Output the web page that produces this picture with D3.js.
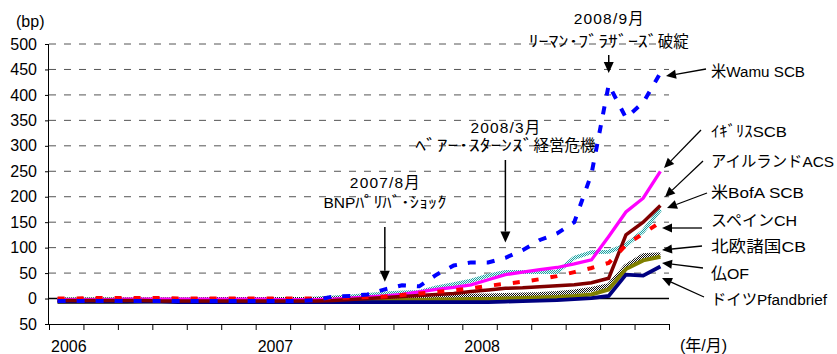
<!DOCTYPE html>
<html>
<head>
<meta charset="utf-8">
<script src="https://cdn.jsdelivr.net/npm/d3@7"></script>
<style>
  html, body { margin: 0; padding: 0; background: #fff; }
  svg { display: block; font-family: "Liberation Sans", Arial, "Noto Sans CJK JP", sans-serif; }
</style>
</head>
<body>
<svg id="chart" width="837" height="354"></svg>
<script>
// Covered-bond spreads, monthly Jan 2006 – Dec 2008 (bp)
const months = d3.range(36);
const yearLabels = ["2006", "2007", "2008"];
const yTickValues = [-50, 0, 50, 100, 150, 200, 250, 300, 350, 400, 450, 500];
const yTickLabels = ["50", "0", "50", "100", "150", "200", "250", "300", "350", "400", "450", "500"];

const wamuSCB   = [-5,-5,-5,-5,-5,-5,-5,-5,-5,-5,-5,-5,-5,-5,-5,-3,4,5,8,18,26,24,47,65,71,71,80,95,115,128,150,245,420,355,385,443];
const ukSCB     = [-2,-2,-2,-2,-1,-1,-1,-1,-1,-1,-1,-1,-1,-2,-2,-2,-1,1,3,5,8,13,18,22,27,37,47,52,57,61,68,76,122,170,197,250];
const irelandACS= [-4,-4,-4,-4,-4,-4,-5,-5,-5,-5,-5,-5,-5,-5,-5,-5,-4,-2,0,2,4,6,8,10,14,17,20,21,23,25,27,31,40,125,150,183];
const bofaSCB   = [0,0,1,1,1,1,1,0,0,0,0,0,0,0,0,0,1,2,3,4,7,10,13,16,20,25,29,33,38,44,52,60,70,105,128,150];
const spainCH   = [-5,-5,-5,-5,-5,-5,-5,-5,-5,-5,-4,-4,-4,-3,-2,0,2,4,7,10,12,13,22,28,35,45,52,52,52,52,80,91,92,105,132,175];
const nordicCB  = [-3,-3,-3,-3,-3,-3,-3,-3,-3,-2,-2,-2,-2,-2,-2,-2,-1,0,1,1,2,2,3,4,5,5,6,7,8,10,13,18,25,63,84,86];
const franceOF  = [-7,-7,-7,-7,-7,-6,-6,-6,-6,-6,-6,-6,-6,-6,-6,-5,-5,-5,-4,-4,-3,-3,-2,-2,-1,-1,0,1,2,3,5,8,18,58,75,82];
const germanyPf = [-6,-6,-6,-6,-6,-6,-6,-7,-7,-7,-7,-7,-7,-7,-7,-7,-7,-7,-7,-7,-7,-7,-7,-7,-7,-7,-6,-5,-4,-3,-1,1,5,47,45,63];

const seriesNames = ["米Wamu SCB", "ｲｷﾞﾘｽSCB", "アイルランドACS", "米BofA SCB", "スペインCH", "北欧諸国CB", "仏OF", "ドイツPfandbrief"];
const seriesValues = [wamuSCB, ukSCB, irelandACS, bofaSCB, spainCH, nordicCB, franceOF, germanyPf];

// stroke style per series (index into the lists above)
const styles = [
  { stroke: "#0000FF", width: 4,   dash: "8,11" },
  { stroke: "#FF00FF", width: 3.3, dash: null },
  { stroke: "#800000", width: 3.5, dash: null },
  { stroke: "#FF0000", width: 4,   dash: "7,12" },
  { stroke: "url(#chkTeal)", width: 4, dash: null },
  { stroke: "url(#chkGray)", width: 5, dash: null },
  { stroke: "#808000", width: 4,   dash: null },
  { stroke: "#000080", width: 3.8, dash: null }
];
// painting order (bottom to top)
const drawOrder = [4, 5, 6, 7, 1, 2, 3, 0];

const svg = d3.select("#chart");
const plotLeft = 49, plotRight = 669, plotTop = 44, plotBottom = 324;

const x = d3.scaleLinear().domain([0, 36]).range([plotLeft, plotRight]);
const y = d3.scaleLinear().domain([-50, 500]).range([plotBottom, plotTop]);

// fill patterns for the textured lines
const defs = svg.append("defs");
const pt = defs.append("pattern").attr("id", "chkTeal").attr("patternUnits", "userSpaceOnUse")
  .attr("width", 2).attr("height", 2);
pt.append("rect").attr("width", 2).attr("height", 2).attr("fill", "#d8ffff");
pt.append("rect").attr("width", 1).attr("height", 1).attr("fill", "#2a9a9a");
pt.append("rect").attr("x", 1).attr("y", 1).attr("width", 1).attr("height", 1).attr("fill", "#2a9a9a");
const pg = defs.append("pattern").attr("id", "chkGray").attr("patternUnits", "userSpaceOnUse")
  .attr("width", 2).attr("height", 2);
pg.append("rect").attr("width", 2).attr("height", 2).attr("fill", "#ffffff");
pg.append("rect").attr("width", 1).attr("height", 1).attr("fill", "#111");
pg.append("rect").attr("x", 1).attr("y", 1).attr("width", 1).attr("height", 1).attr("fill", "#111");

// dashed horizontal gridlines
svg.append("g").selectAll("line")
  .data(yTickValues.filter(v => v > 0))
  .join("line")
  .attr("x1", plotLeft).attr("x2", plotRight)
  .attr("y1", d => y(d)).attr("y2", d => y(d))
  .attr("stroke", "#555").attr("stroke-width", 1)
  .attr("stroke-dasharray", "7,8");

// solid zero line
svg.append("line")
  .attr("x1", plotLeft).attr("x2", plotRight)
  .attr("y1", y(0)).attr("y2", y(0))
  .attr("stroke", "#000").attr("stroke-width", 1.5);

// y axis
const yAxis = d3.axisLeft(y).tickValues(yTickValues).tickSize(4)
  .tickFormat((d, i) => yTickLabels[i]);
const gy = svg.append("g").attr("transform", `translate(${plotLeft},0)`).call(yAxis);
gy.select(".domain").attr("stroke", "#000").attr("d", `M-0.5,${plotTop}V${plotBottom}`);
gy.selectAll(".tick line").attr("stroke", "#000");
gy.selectAll(".tick text").attr("font-size", 16).attr("fill", "#000")
  .attr("font-family", "\"Liberation Sans\", Arial, sans-serif").attr("x", -12);

// x axis: ticks every two months
const xAxis = d3.axisBottom(x).tickValues(d3.range(0, 37, 2)).tickSize(6).tickFormat("");
const gx = svg.append("g").attr("transform", `translate(0,${plotBottom})`).call(xAxis);
gx.select(".domain").attr("stroke", "#000");
gx.selectAll(".tick line").attr("stroke", "#000");

svg.append("g").selectAll("text")
  .data(yearLabels)
  .join("text")
  .attr("x", (d, i) => x(i * 12) + 2)
  .attr("y", 352)
  .attr("font-size", 16)
  .text(d => d);

svg.append("text").attr("x", 16).attr("y", 27).attr("font-size", 16).text("(bp)");
svg.append("text").attr("x", 680).attr("y", 351).attr("font-size", 16).text("(年/月)");

// series lines
const line = d3.line().x((d, i) => x(i + 0.5)).y(d => y(d));
svg.append("g").selectAll("path")
  .data(drawOrder)
  .join("path")
  .attr("d", k => line(seriesValues[k]))
  .attr("fill", "none")
  .attr("stroke", k => styles[k].stroke)
  .attr("stroke-width", k => styles[k].width)
  .attr("stroke-dasharray", k => styles[k].dash)
  .attr("stroke-linejoin", "miter");

// arrow helper: line from (x1,y1) to tip (x2,y2) with a filled head
function arrow(g, x1, y1, x2, y2, len, half, w) {
  const a = Math.atan2(y2 - y1, x2 - x1);
  const bx = x2 - len * Math.cos(a), by = y2 - len * Math.sin(a);
  g.append("line").attr("x1", x1).attr("y1", y1).attr("x2", bx).attr("y2", by)
    .attr("stroke", "#000").attr("stroke-width", w);
  const px = -Math.sin(a) * half, py = Math.cos(a) * half;
  g.append("path")
    .attr("d", `M${x2},${y2}L${bx + px},${by + py}L${bx - px},${by - py}Z`)
    .attr("fill", "#000");
}

// a centred line of text built from runs; a run with a width is fitted to it
function textRuns(g, cx, baseline, runs, size) {
  const nodes = runs.map(r => {
    const t = g.append("text").attr("y", baseline).attr("font-size", size).text(r.t);
    if (r.w) t.attr("textLength", r.w).attr("lengthAdjust", r.adj || "spacingAndGlyphs");
    return { t, w: r.w || t.node().getComputedTextLength() };
  });
  let xx = cx - d3.sum(nodes, n => n.w) / 2;
  nodes.forEach(n => { n.t.attr("x", xx); xx += n.w; });
}

// event annotations
const events = [
  { month: 19, lines: [[{ t: "2007/8月", w: 70, adj: "spacing" }],
                       [{ t: "BNP" }, { t: "ﾊﾟﾘﾊﾞ･ｼｮｯｸ", w: 91 }]],
    baselines: [188, 208], from: 227, tipValue: 33 },
  { month: 26, lines: [[{ t: "2008/3月", w: 70, adj: "spacing" }],
                       [{ t: "ﾍﾞｱｰ･ｽﾀｰﾝｽﾞ", w: 118 }, { t: "経営危機" }]],
    baselines: [133, 151], from: 160, tipValue: 110 },
  { month: 32, lines: [[{ t: "2008/9月", w: 70, adj: "spacing" }],
                       [{ t: "ﾘｰﾏﾝ･ﾌﾞﾗｻﾞｰｽﾞ", w: 129 }, { t: "破綻" }]],
    baselines: [24, 47], from: 55, tipValue: 443 }
];
const ge = svg.append("g");
events.forEach(ev => {
  const cx = x(ev.month + 0.5);
  ev.lines.forEach((runs, j) => textRuns(ge, cx, ev.baselines[j], runs, 15.5));
  arrow(ge, cx, ev.from, cx, y(ev.tipValue), 11, 5, 1.5);
});

// series labels with pointers
const labelLayout = [
  { ty: 77,  w: 94,  ax: 706, ay: 69,  tx: 666, tyy: 76 },
  { ty: 137, w: 76,  ax: 701, ay: 130, tx: 664, tyy: 168 },
  { ty: 167, w: 123, ax: 703, ay: 161, tx: 665, tyy: 197 },
  { ty: 198, w: 93,  ax: 707, ay: 193, tx: 667, tyy: 208 },
  { ty: 226, w: 86,  ax: 702, ay: 228, tx: 662, tyy: 228 },
  { ty: 252, w: 95,  ax: 702, ay: 246, tx: 662, tyy: 250 },
  { ty: 279, w: 38,  ax: 703, ay: 268, tx: 662, tyy: 263 },
  { ty: 305, w: 116, ax: 704, ay: 297, tx: 662, tyy: 278 }
];
const gl = svg.append("g");
seriesNames.forEach((name, i) => {
  const L = labelLayout[i];
  gl.append("text").attr("x", 711).attr("y", L.ty).attr("font-size", 15.5)
    .attr("textLength", L.w).attr("lengthAdjust", "spacingAndGlyphs").text(name);
  arrow(gl, L.ax, L.ay, L.tx, L.tyy, 10, 4.5, 1.3);
});
</script>
</body>
</html>
